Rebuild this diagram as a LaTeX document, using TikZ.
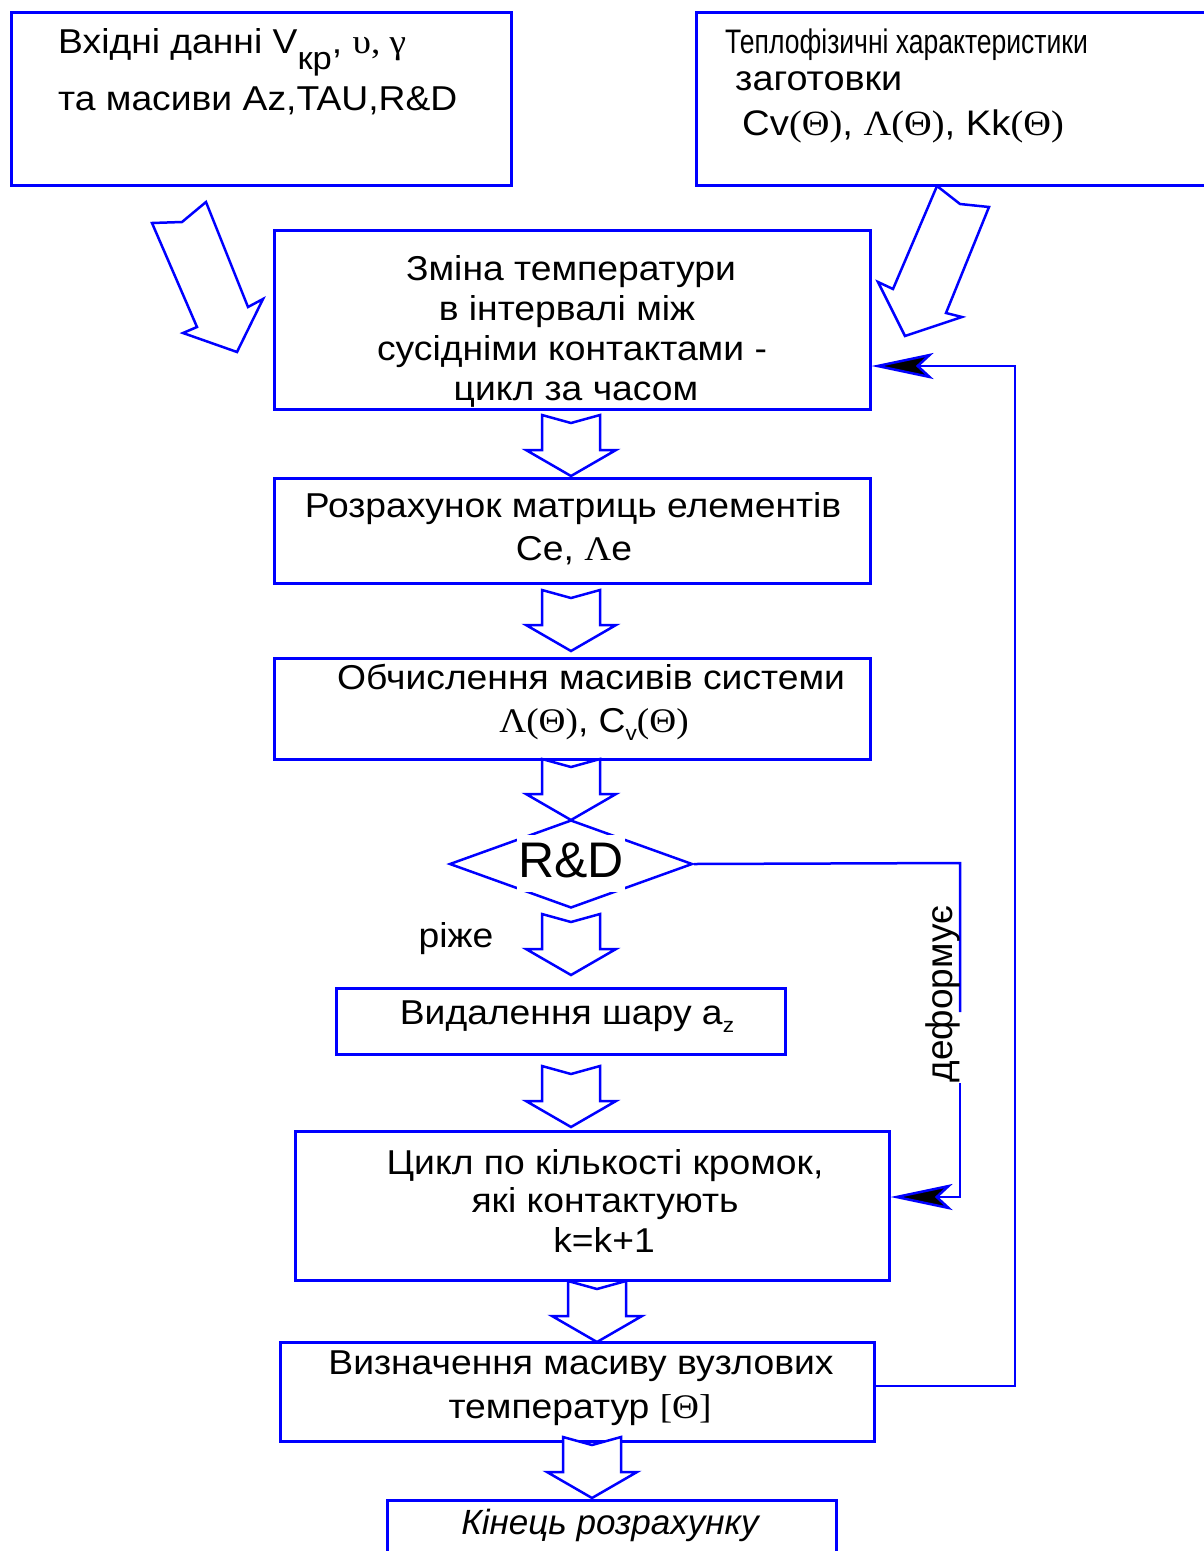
\documentclass[tikz,border=0pt]{standalone}
\usepackage{fontspec}
\setmainfont{Liberation Sans}[FakeStretch=1.08]
\newfontfamily\plain{Liberation Sans}
\newfontfamily\grk{Liberation Serif}[FakeStretch=1.08]
\newfontfamily\narrowfont{Liberation Sans}[FakeStretch=0.78]
\usetikzlibrary{arrows.meta,shapes.geometric}
\definecolor{flowblue}{RGB}{0,0,255}

\begin{document}
\begin{tikzpicture}[x=1pt,y=-1pt,
  box/.style={draw=flowblue, line width=2.5pt, inner sep=0pt, anchor=north west},
  lbl/.style={font=\fontsize{34.5}{40}\selectfont, inner sep=0pt, anchor=base},
  lblw/.style={lbl, anchor=base west},
  shapeline/.style={draw=flowblue, line width=2.5pt, line join=miter},
  fb/.style={draw=flowblue, line width=2.5pt,
    -{Stealth[length=62pt, width=26pt, inset=14pt, fill=black, line width=2.5pt]}},
  blockarrow/.pic={
    \draw[shapeline, fill=white] (-29,0) -- (0,8) -- (29,0) -- (29,35) -- (45,35)
      -- (0,61) -- (-45,35) -- (-29,35) -- cycle;}
]
\useasboundingbox (0,0) rectangle (1203,1551);

% ---------- input boxes ----------
\node[box, minimum width=500pt, minimum height=173pt] (b1) at (10,11) {};
\node[lblw] (t1a) at (58,53)
  {Вхідні данні V\raisebox{-16pt}{\fontsize{32}{32}\selectfont кр}, {\grk υ, γ}};
\node[lblw] (t1b) at (58,110) {та масиви Az,TAU,R\&D};

\node[box, minimum width=540pt, minimum height=173pt] (b2) at (695,11) {};
\node[lblw, font=\fontsize{34}{40}\narrowfont] (t2a) at (725,53) {Теплофізичні характеристики};
\node[lblw, font=\fontsize{35}{40}\selectfont] (t2b) at (735,90) {заготовки};
\node[lblw, font=\fontsize{35.5}{40}\selectfont] (t2c) at (742,135)
  {Cv{\grk(Θ)}, {\grk Λ(Θ)}, Kk{\grk(Θ)}};

% ---------- slanted input arrows ----------
\draw[shapeline] (152,223) -- (182,222) -- (206,202) -- (248,307) -- (263,299)
  -- (237,352) -- (183,333) -- (197,327) -- cycle;
\draw[shapeline] (937,186) -- (960,204) -- (989,207) -- (946,313) -- (962,317)
  -- (905,336) -- (878,282) -- (893,289) -- cycle;

% ---------- main chain ----------
\node[box, minimum width=596pt, minimum height=179pt] (b3) at (273,229) {};
\node[lbl] (t3a) at (571,280) {Зміна температури};
\node[lbl] (t3b) at (567,320) {в інтервалі між};
\node[lbl] (t3c) at (572,360) {сусідніми контактами -};
\node[lbl] (t3d) at (576,400) {цикл за часом};

\node[box, minimum width=596pt, minimum height=105pt] (b4) at (273,477) {};
\node[lbl] (t4a) at (573,517) {Розрахунок матриць елементів};
\node[lbl] (t4b) at (574,560) {Ce, {\grk Λ}e};

\node[box, minimum width=596pt, minimum height=101pt] (b5) at (273,657) {};
\node[lbl] (t5a) at (591,689) {Обчислення масивів системи};
\node[lbl] (t5b) at (594,732)
  {{\grk Λ(Θ)}, C\raisebox{-8pt}{\fontsize{21}{21}\selectfont v}{\grk(Θ)}};

\node[draw=flowblue, line width=2.5pt, shape=diamond, inner sep=0pt,
  minimum width=243pt, minimum height=88pt] (rd) at (571,864) {};
\node[fill=white, inner sep=0pt, anchor=base, text height=42pt, text depth=15pt,
  minimum width=108pt, font=\fontsize{50}{50}\plain] (rdt) at (571,877) {R\&D};
\node[lbl] (cut) at (456,947) {ріже};

\node[box, minimum width=449pt, minimum height=66pt] (b8) at (335,987) {};
\node[lbl] (t8) at (567,1024)
  {Видалення шару a\raisebox{-8pt}{\fontsize{21}{21}\selectfont z}};

\node[box, minimum width=594pt, minimum height=149pt] (b9) at (294,1130) {};
\node[lbl] (t9a) at (605,1174) {Цикл по кількості кромок,};
\node[lbl] (t9b) at (605,1212) {які контактують};
\node[lbl] (t9c) at (604,1252) {k=k+1};

\node[box, minimum width=594pt, minimum height=99pt] (b10) at (279,1341) {};
\node[lbl] (t10a) at (581,1374) {Визначення масиву вузлових};
\node[lbl] (t10b) at (580,1418) {температур {\grk[Θ]}};

\node[box, minimum width=449pt, minimum height=90pt] (b11) at (386,1499) {};
\node[lbl, font=\fontsize{35}{40}\plain\itshape] (t11) at (610,1534) {Кінець розрахунку};

% ---------- hollow block arrows ----------
\pic at (571,415) {blockarrow};
\pic at (571,590) {blockarrow};
\pic at (571,759) {blockarrow};
\pic at (571,914) {blockarrow};
\pic at (571,1066) {blockarrow};
\pic at (597,1281) {blockarrow};
\pic at (592,1437) {blockarrow};

% ---------- feedback loops ----------
\coordinate (r1) at (1015,1386);
\coordinate (r2) at (1015,366);
\draw[fb] (b10.east |- r1) -- (r1) -- (r2) -- (b3.east |- r2);

\coordinate (d1) at (960,863);
\coordinate (g1) at (960,1012);
\coordinate (g2) at (960,1083);
\coordinate (d2) at (960,1197);
\draw[shapeline] (rd.east) -- (d1) -- (g1);
\draw[fb] (g2) -- (d2) -- (b9.east |- d2);
\node[lbl, rotate=90, font=\fontsize{37}{40}\plain] (deform) at (952,994) {деформує};

\end{tikzpicture}
\end{document}
